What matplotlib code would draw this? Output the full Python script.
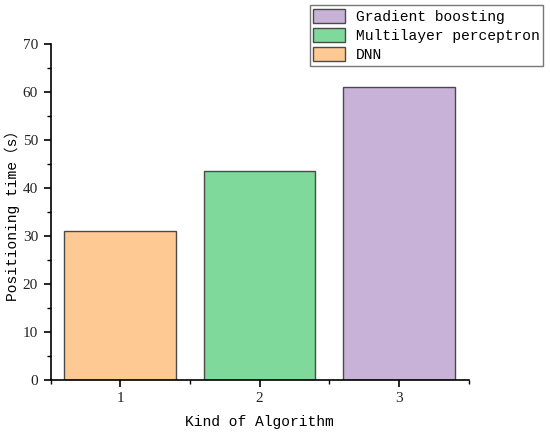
import matplotlib
matplotlib.use("Agg")
import matplotlib.pyplot as plt
from matplotlib.ticker import MultipleLocator, FixedLocator
from matplotlib.patches import Patch

categories = [1, 2, 3]
values = [31.0, 43.5, 61.0]
series_names = ["DNN", "Multilayer perceptron", "Gradient boosting"]
colors = ["#FFC993", "#7FD99A", "#C8B2D8"]
y_ticks = [0, 10, 20, 30, 40, 50, 60, 70]
x_tick_labels = ["1", "2", "3"]

label_font = ["Liberation Mono", "Noto Sans CJK SC"]
tick_font = "Liberation Serif"

fig = plt.figure(figsize=(5.5, 4.34), dpi=100)
ax = fig.add_axes([50.5/550, 1-380/434, (468.5-50.5)/550, (380-44)/434])

edge = "#4a4a4a"
for x, v, c in zip(categories, values, colors):
    ax.bar(x, v, width=0.8, color=c, edgecolor=edge, linewidth=1.0, zorder=2)

ax.set_xlim(0.5, 3.5)
ax.set_ylim(0, 70)
ax.set_xticks(categories)
ax.set_xticklabels(x_tick_labels)
ax.set_yticks(y_ticks)
ax.xaxis.set_minor_locator(FixedLocator([0.5, 1.5, 2.5, 3.5]))
ax.yaxis.set_minor_locator(MultipleLocator(5))

for s in ["top", "right"]:
    ax.spines[s].set_visible(False)
for s in ["left", "bottom"]:
    ax.spines[s].set_linewidth(1.2)
    ax.spines[s].set_color("black")

ax.tick_params(axis="both", which="major", direction="out", length=5, width=1.2, labelsize=11, pad=4)
ax.tick_params(axis="both", which="minor", direction="out", length=3, width=1.0)
for lab in ax.get_xticklabels() + ax.get_yticklabels():
    lab.set_fontfamily(tick_font)
    lab.set_color("#222222")

ax.set_xlabel("Kind of Algorithm", fontsize=10.5, family=label_font, labelpad=7)
ax.set_ylabel("Positioning time（s）", fontsize=10.5, family=label_font, labelpad=2)

handles = [Patch(facecolor=colors[i], edgecolor=edge, linewidth=1.0, label=series_names[i]) for i in [2, 1, 0]]
leg = fig.legend(handles=handles, loc="upper right", bbox_to_anchor=(543/550, 1-5/434),
                 prop={"family": label_font, "size": 10.5}, frameon=True, fancybox=False,
                 edgecolor="#555555", handlelength=2.2, handleheight=1.1, handletextpad=0.7,
                 labelspacing=0.3, borderpad=0.25, borderaxespad=0)
leg.get_frame().set_linewidth(1.0)

fig.savefig("out.png", dpi=100)
